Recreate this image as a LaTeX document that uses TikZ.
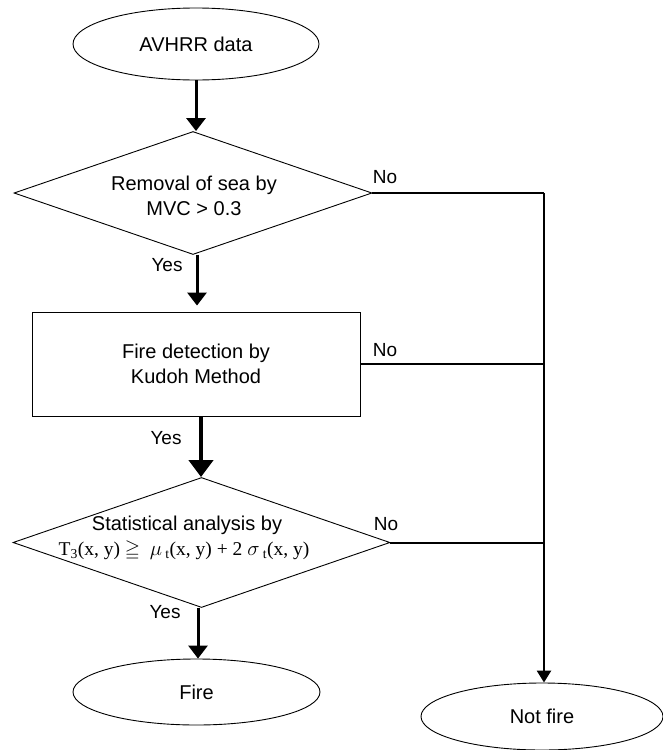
\documentclass[tikz,border=0pt]{standalone}
\usepackage{amssymb}
\usepackage{fontspec}
\setmainfont{Liberation Sans}
\newfontfamily\formulafont{Liberation Serif}
\usetikzlibrary{shapes.geometric,arrows.meta}

\tikzset{
  outline/.style={draw, line width=0.9pt},
  term/.style={outline, ellipse, inner sep=0pt},
  decision/.style={outline, diamond, inner sep=0pt},
  process/.style={outline, rectangle, inner sep=0pt},
  txt/.style={font=\fontsize{20}{25}\selectfont, align=center, inner sep=0pt},
  lbl/.style={font=\fontsize{19}{21}\selectfont, inner sep=0pt},
  flow/.style={line width=3pt, -{Triangle[width=19pt,length=13pt]}},
  flowheavy/.style={line width=4.5pt, -{Triangle[width=24pt,length=17pt]}},
  flowthin/.style={line width=2.6pt, -{Triangle[width=14pt,length=12pt]}},
  branch/.style={line width=2pt},
}

\begin{document}
\begin{tikzpicture}[x=1pt,y=-1pt]
  \useasboundingbox (0,0) rectangle (663,750);

  % shapes
  \node[term, minimum width=246pt, minimum height=72pt, txt] (src) at (196,44) {AVHRR data};
  \node[decision, minimum width=358pt, minimum height=123pt] (d1) at (193,193) {};
  \node[txt] (d1t) at (194,196) {Removal of sea by\\MVC > 0.3};
  \node[process, minimum width=328pt, minimum height=104pt, txt, align=center] (box) at (196,364) {Fire detection by\\Kudoh Method};
  \node[decision, minimum width=377pt, minimum height=130pt] (d2) at (201.5,542.5) {};
  \node[txt] (d2t) at (187,525) {Statistical analysis by};
  \node[inner sep=0pt, font=\formulafont\fontsize{19.5}{22}\selectfont] (d2f) at (184,551)
    {T\textsubscript{3}(x, y) $\geqq$\ \ $\mu$\,\textsubscript{t}(x, y) + 2 $\sigma$\,\textsubscript{t}(x, y)};
  \node[term, minimum width=247pt, minimum height=66pt, txt] (fire) at (196.5,692) {Fire};
  \node[term, minimum width=242pt, minimum height=67pt, txt] (nf) at (542,716.5) {Not fire};

  % start points of the vertical flow arrows
  \coordinate (s2) at (197,254.5);
  \coordinate (s3) at (201,416);
  \coordinate (s4) at (198,607.5);

  % junctions on the right-hand collector line
  \coordinate (j1) at (544,193);
  \coordinate (j2) at (544,364);
  \coordinate (j3) at (544,542.5);

  % main flow
  \draw[flow] (src.south) -- (src.south |- d1.north);
  \draw[flow, shorten >=6pt] (s2) -- (s2 |- box.north);
  \draw[flowheavy] (s3) -- (s3 |- d2.north);
  \draw[flow] (s4) -- (s4 |- fire.north);

  % rejected branches
  \draw[branch] (d1.east) -- (j1);
  \draw[branch] (box.east) -- (j2);
  \draw[branch] (d2.east) -- (j3);
  \draw[flowthin] (j1) -- (j1 |- nf.north);

  % branch labels
  \node[lbl] (no1) at (385,177) {No};
  \node[lbl] (no2) at (385,350) {No};
  \node[lbl] (no3) at (386,524) {No};
  \node[lbl] (yes1) at (167,265) {Yes};
  \node[lbl] (yes2) at (166,438) {Yes};
  \node[lbl] (yes3) at (165,612) {Yes};
\end{tikzpicture}
\end{document}
